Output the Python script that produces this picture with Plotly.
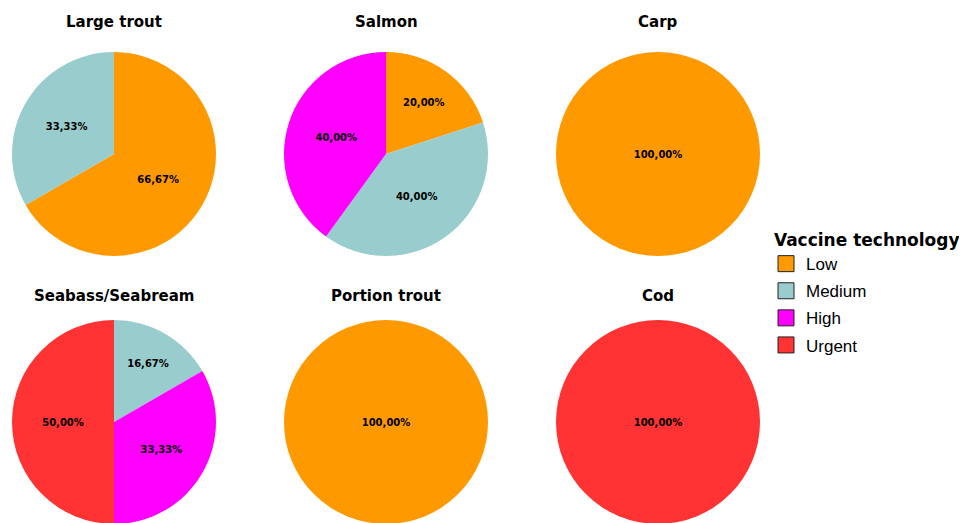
import plotly.graph_objects as go

categories = ["Low", "Medium", "High", "Urgent"]
colors = ["#FF9900", "#99CCCC", "#FF00FF", "#FF3333"]

fish = ["Large trout", "Salmon", "Carp", "Seabass/Seabream", "Portion trout", "Cod"]
large_trout = [66.67, 33.33, 0, 0]
salmon = [20.00, 40.00, 40.00, 0]
carp = [100.00, 0, 0, 0]
seabass = [0, 16.67, 33.33, 50.00]
portion_trout = [100.00, 0, 0, 0]
cod = [0, 0, 0, 100.00]
series = [large_trout, salmon, carp, seabass, portion_trout, cod]

W, H = 967, 523
OFF = 8  # page body margin
# pie boxes in pixels (left, top, right, bottom) in window coordinates
cols = [(12, 216), (284, 488), (556, 760)]
rows = [(52, 256), (320, 524)]
title_y = [22, 296]

fig = go.Figure()
annotations = []
for i, (name, vals) in enumerate(zip(fish, series)):
    r, c = divmod(i, 3)
    x0, x1 = [v - OFF for v in cols[c]]
    y0, y1 = [v - OFF for v in rows[r]]
    labs = [cat for cat, v in zip(categories, vals) if v > 0]
    vv = [v for v in vals if v > 0]
    cc = [col for col, v in zip(colors, vals) if v > 0]
    txt = [f"<b>{v:.2f}%</b>".replace(".", ",") for v in vv]
    fig.add_trace(go.Pie(
        labels=labs, values=vv, text=txt, textinfo="text",
        textposition="inside", insidetextorientation="horizontal",
        textfont=dict(family="DejaVu Sans", size=10, color="black"),
        marker=dict(colors=cc, line=dict(width=0)),
        sort=False, direction="clockwise", rotation=0,
        showlegend=False, hoverinfo="label+percent",
        domain=dict(x=[x0 / W, x1 / W], y=[max(0, (H - y1) / H), (H - y0) / H]),
    ))
    annotations.append(dict(
        text=f"<b>{name}</b>", x=(x0 + x1) / 2 / W, y=1 - (title_y[r] - OFF) / H,
        xref="paper", yref="paper", showarrow=False, xanchor="center", yanchor="middle",
        font=dict(family="DejaVu Sans", size=15, color="black"),
    ))

for k, (cat, col) in enumerate(zip(categories, colors)):
    fig.add_trace(go.Scatter(
        x=[None], y=[None], mode="markers", name=cat, legendgroup=f"g{k}",
        marker=dict(symbol="square", size=16, color=col, line=dict(color="#222", width=1)),
    ))

fig.update_layout(
    width=W, height=H,
    margin=dict(l=0, r=0, t=0, b=0),
    paper_bgcolor="white", plot_bgcolor="white",
    xaxis=dict(visible=False), yaxis=dict(visible=False),
    annotations=annotations,
    legend=dict(
        title=dict(text="<b>\u00a0Vaccine technology</b>", font=dict(family="DejaVu Sans", size=17, color="black")),
        font=dict(family="Liberation Sans", size=17, color="black"),
        x=(766 - OFF) / W, y=1 - (224 - OFF) / H, xanchor="left", yanchor="top",
        itemwidth=30, tracegroupgap=2, bgcolor="rgba(0,0,0,0)",
    ),
)
fig.write_html("out.html")
